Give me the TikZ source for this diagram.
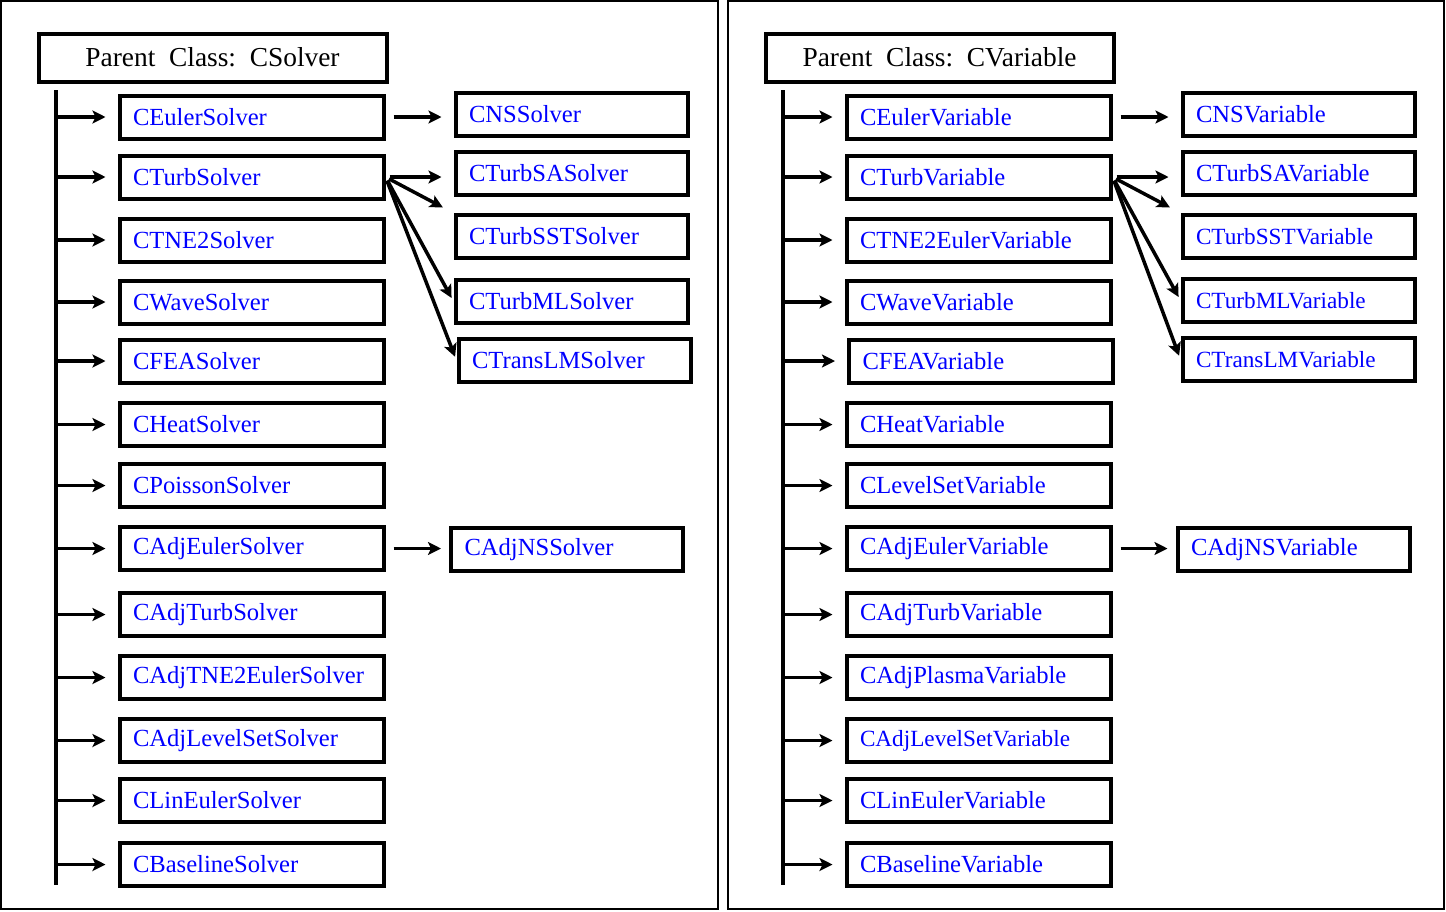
\documentclass[tikz,border=0pt]{standalone}
\usepackage{fontspec}
\setmainfont{Liberation Serif}
\usetikzlibrary{arrows.meta}

\begin{document}
\begin{tikzpicture}[
    x=0.5pt, y=-0.5pt,
    eltern/.style={
      draw,
      line width=2pt,
      minimum width=174pt,
      minimum height=24pt,
      inner sep=0pt,
      font=\fontsize{13.7}{16}\selectfont},
    kind/.style={
      draw,
      line width=2pt,
      minimum width=132pt,
      minimum height=21.5pt,
      inner xsep=6.75pt,
      inner ysep=0pt,
      text width=118.5pt,
      align=left,
      text=blue,
      font=\fontsize{12.3}{14}\selectfont},
    enkel/.style={
      kind,
      minimum width=116pt,
      text width=102.5pt},
    klein/.style={font=\fontsize{11.6}{14}\selectfont},
    pfeil/.style={
      line width=1.75pt,
      -{Stealth[length=6.5pt,width=6.5pt,inset=1.5pt]}}
    ]

  \useasboundingbox (0,0) rectangle (1446,911);
  \draw[line width=1pt] (1,1) rectangle (718,909);
  \draw[line width=1pt] (728,1) rectangle (1444,909);

  % CSolver
  \node at (212.5,57.5) (solver0) [eltern] {Parent\hspace{.5em}Class:\hspace{.5em}CSolver};
  \node at (251.5,117) (solver1) [kind] {CEulerSolver};
  \node at (251.5,177) (solver2) [kind] {CTurbSolver};
  \node at (251.5,240) (solver3) [kind] {CTNE2Solver};
  \node at (251.5,302) (solver4) [kind] {CWaveSolver};
  \node at (251.5,361) (solver5) [kind] {CFEASolver};
  \node at (251.5,424.5) (solver6) [kind] {CHeatSolver};
  \node at (251.5,485.5) (solver7) [kind] {CPoissonSolver};
  \node at (251.5,548.5) (solver8) [kind] {CAdjEulerSolver};
  \node at (251.5,614.5) (solver9) [kind] {CAdjTurbSolver};
  \node at (251.5,677.5) (solver10) [kind] {CAdjTNE2EulerSolver};
  \node at (251.5,740.5) (solver11) [kind] {CAdjLevelSetSolver};
  \node at (251.5,800.5) (solver12) [kind] {CLinEulerSolver};
  \node at (251.5,864.5) (solver13) [kind] {CBaselineSolver};

  \node at (571.5,114.5) (nssolver) [enkel] {CNSSolver};
  \node at (571.5,173.5) (turbsasolver) [enkel] {CTurbSASolver};
  \node at (571.5,236.5) (turbsstsolver) [enkel] {CTurbSSTSolver};
  \node at (571.5,301.5) (turbmlsolver) [enkel] {CTurbMLSolver};
  \node at (574.5,360.5) (translmsolver) [enkel] {CTransLMSolver};
  \node at (567,549.5) (adjnssolver) [enkel] {CAdjNSSolver};

  \coordinate (stammS) at (56,90);
  \coordinate (stammSende) at (56,885);
  \draw[line width=2pt] (stammS) -- (stammSende);
  \foreach \i in {1,...,13}
    \draw[pfeil, shorten >=6pt] (stammS |- solver\i.west) -- (solver\i.west);

  \path[pfeil]
        (solver1.east) edge[shorten <=4pt, shorten >=6pt] (solver1.east -| nssolver.west)
        (solver2.east) edge[shorten <=2pt, shorten >=6pt] (turbsasolver.west |- solver2.east)
        (solver2.east) edge[shorten <=2pt, shorten >=6pt] (turbsstsolver.north west)
        (solver2.east) edge[shorten <=2pt, shorten >=2pt] (turbmlsolver.west)
        (solver2.east) edge[shorten <=2pt, shorten >=2pt] (translmsolver.west)
        (solver8.east) edge[shorten <=4pt, shorten >=4pt] (solver8.east -| adjnssolver.west)
   ;

  % CVariable
  \node at (939.5,57.5) (variable0) [eltern] {Parent\hspace{.5em}Class:\hspace{.5em}CVariable};
  \node at (978.5,117) (variable1) [kind] {CEulerVariable};
  \node at (978.5,177) (variable2) [kind] {CTurbVariable};
  \node at (978.5,240) (variable3) [kind] {CTNE2EulerVariable};
  \node at (978.5,302) (variable4) [kind] {CWaveVariable};
  \node at (981,361) (variable5) [kind] {CFEAVariable};
  \node at (978.5,424.5) (variable6) [kind] {CHeatVariable};
  \node at (978.5,485.5) (variable7) [kind] {CLevelSetVariable};
  \node at (978.5,548.5) (variable8) [kind] {CAdjEulerVariable};
  \node at (978.5,614.5) (variable9) [kind] {CAdjTurbVariable};
  \node at (978.5,677.5) (variable10) [kind] {CAdjPlasmaVariable};
  \node at (978.5,740.5) (variable11) [kind, klein] {CAdjLevelSetVariable};
  \node at (978.5,800.5) (variable12) [kind] {CLinEulerVariable};
  \node at (978.5,864.5) (variable13) [kind] {CBaselineVariable};

  \node at (1298.5,114.5) (nsvariable) [enkel] {CNSVariable};
  \node at (1298.5,173.5) (turbsavariable) [enkel] {CTurbSAVariable};
  \node at (1298.5,236.5) (turbsstvariable) [enkel, klein] {CTurbSSTVariable};
  \node at (1298.5,300.5) (turbmlvariable) [enkel, klein] {CTurbMLVariable};
  \node at (1298.5,359.5) (translmvariable) [enkel, klein] {CTransLMVariable};
  \node at (1293.5,549.5) (adjnsvariable) [enkel] {CAdjNSVariable};

  \coordinate (stammV) at (783,90);
  \coordinate (stammVende) at (783,885);
  \draw[line width=2pt] (stammV) -- (stammVende);
  \foreach \i in {1,...,13}
    \draw[pfeil, shorten >=6pt] (stammV |- variable\i.west) -- (variable\i.west);

  \path[pfeil]
        (variable1.east) edge[shorten <=4pt, shorten >=6pt] (variable1.east -| nsvariable.west)
        (variable2.east) edge[shorten <=2pt, shorten >=6pt] (turbsavariable.west |- variable2.east)
        (variable2.east) edge[shorten <=2pt, shorten >=6pt] (turbsstvariable.north west)
        (variable2.east) edge[shorten <=2pt, shorten >=2pt] (turbmlvariable.west)
        (variable2.east) edge[shorten <=2pt, shorten >=2pt] (translmvariable.west)
        (variable8.east) edge[shorten <=4pt, shorten >=4pt] (variable8.east -| adjnsvariable.west)
   ;

\end{tikzpicture}
\end{document}
